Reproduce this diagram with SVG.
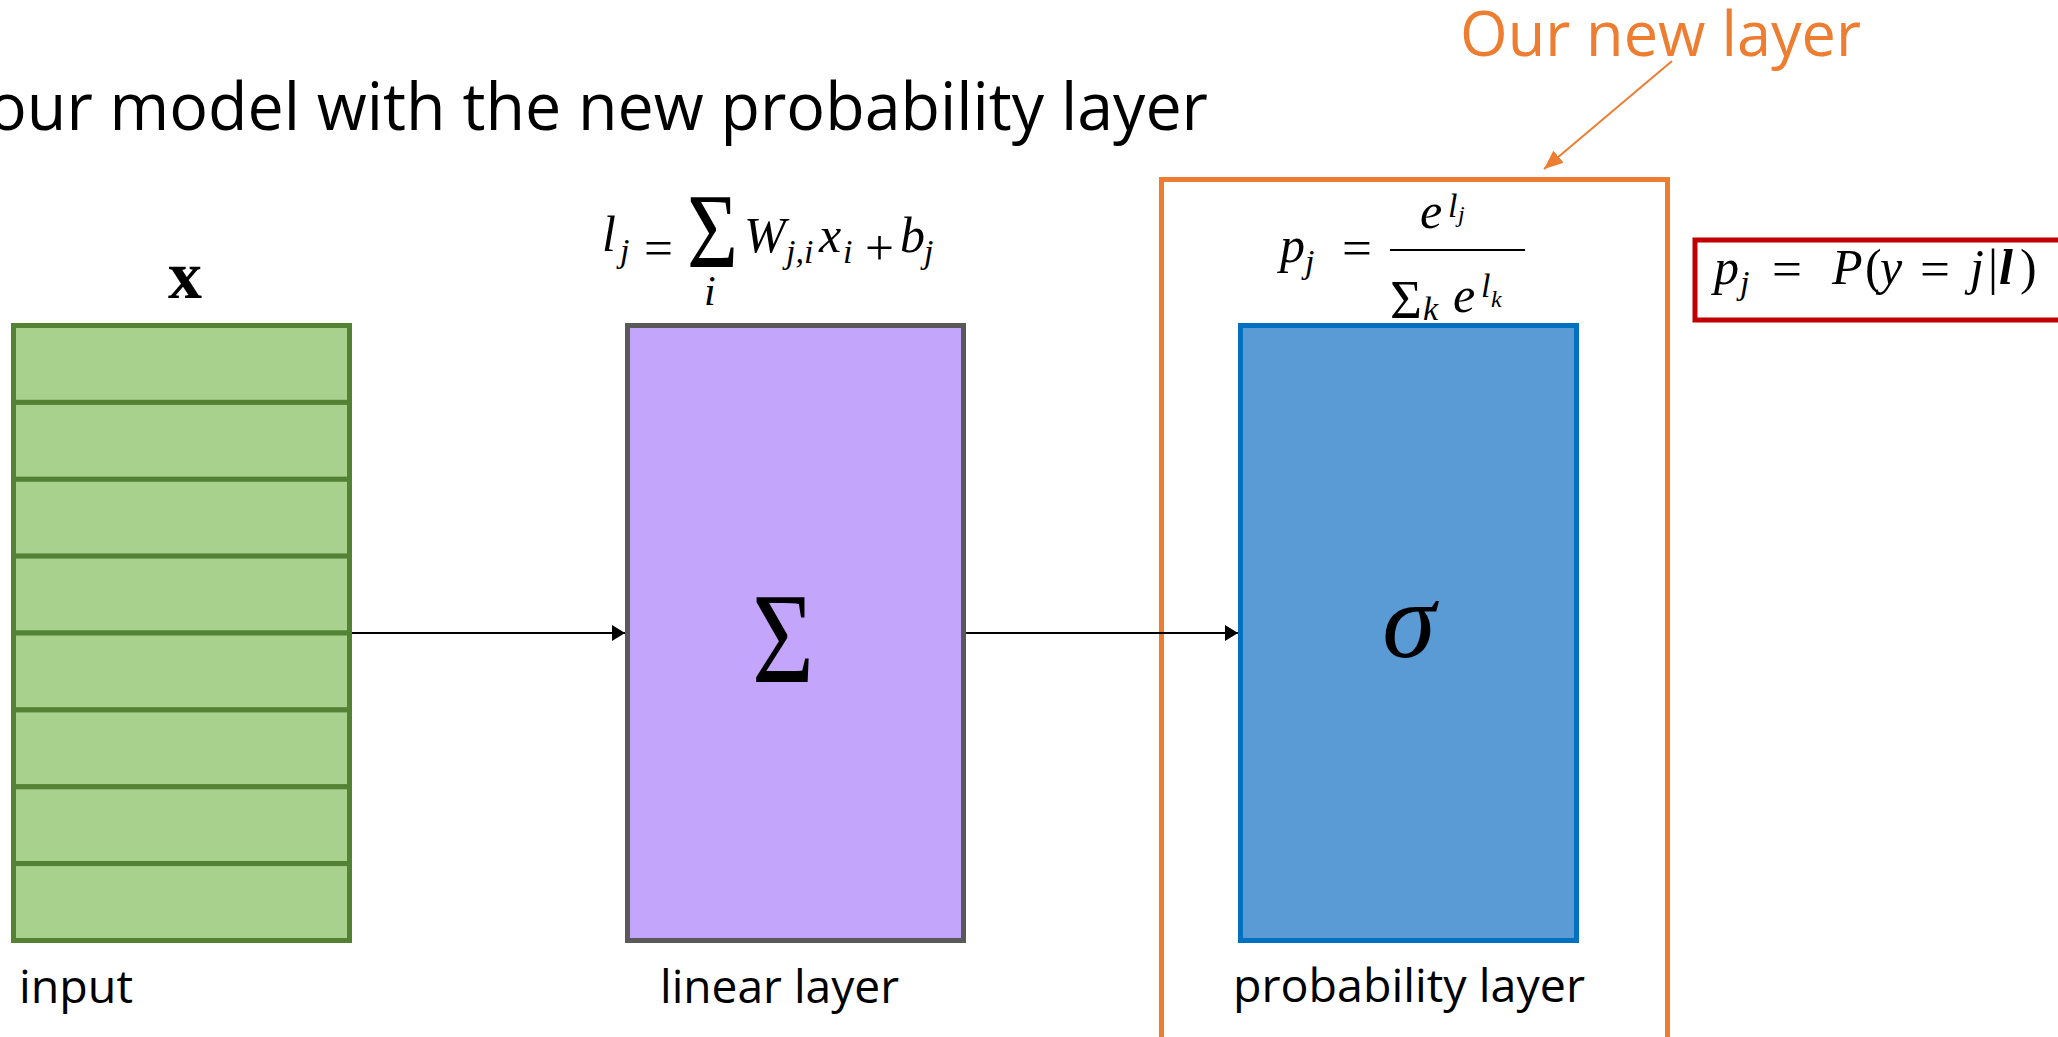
<svg xmlns="http://www.w3.org/2000/svg" width="2058" height="1037" viewBox="0 0 2058 1037">
<style>
.lbl{font-family:"Open Sans","Noto Sans",sans-serif;fill:#000}
.m{font-family:"Liberation Serif","DejaVu Serif",serif;font-style:italic;fill:#000}
.mr{font-family:"Liberation Serif","DejaVu Serif",serif;fill:#000}
.row{fill:#A9D18E;stroke:#548235;stroke-width:5}
.conn{stroke:#000;stroke-width:2;fill:none}
</style>
<defs>
<marker id="ah" markerUnits="userSpaceOnUse" markerWidth="14" markerHeight="16" refX="13" refY="8" orient="auto">
<path d="M0,0 L13,8 L0,16 z" fill="#000"/>
</marker>
<marker id="ahO" markerUnits="userSpaceOnUse" markerWidth="20" markerHeight="16" refX="19" refY="8" orient="auto">
<path d="M0,0 L19,8 L0,16 z" fill="#ED7D31"/>
</marker>
</defs>
<rect width="2058" height="1037" fill="#fff"/>

<text class="lbl" x="-12" y="130" font-size="65" textLength="1220" lengthAdjust="spacingAndGlyphs">our model with the new probability layer</text>

<g id="callout">
<text class="lbl" x="1460" y="56" font-size="62" style="fill:#ED7D31" textLength="401" lengthAdjust="spacingAndGlyphs">Our new layer</text>
<line x1="1672" y1="61" x2="1544" y2="169" stroke="#ED7D31" stroke-width="2" marker-end="url(#ahO)"/>
</g>

<g id="new-layer-frame">
<rect x="1161.5" y="179.5" width="506" height="860" fill="none" stroke="#ED7D31" stroke-width="5"/>
</g>

<g id="input">
<text class="mr" x="185" y="298" font-size="68" font-weight="bold" text-anchor="middle">x</text>
<rect class="row" x="13.5" y="325.5" width="336" height="76.9"/>
<rect class="row" x="13.5" y="402.4" width="336" height="76.9"/>
<rect class="row" x="13.5" y="479.3" width="336" height="76.9"/>
<rect class="row" x="13.5" y="556.1" width="336" height="76.9"/>
<rect class="row" x="13.5" y="633" width="336" height="76.9"/>
<rect class="row" x="13.5" y="709.9" width="336" height="76.9"/>
<rect class="row" x="13.5" y="786.8" width="336" height="76.8"/>
<rect class="row" x="13.5" y="863.6" width="336" height="76.9"/>
<text class="lbl" x="19" y="1003" font-size="46" textLength="114" lengthAdjust="spacingAndGlyphs">input</text>
</g>

<g id="linear-layer">
<text class="m" x="602" y="251" font-size="50">l</text>
<text class="m" x="620" y="262" font-size="34">j</text>
<text class="mr" x="644" y="265" font-size="50" textLength="29" lengthAdjust="spacingAndGlyphs">=</text>
<text class="mr" x="687" y="267" font-size="106" textLength="51" lengthAdjust="spacingAndGlyphs">Σ</text>
<text class="m" x="704" y="305" font-size="42">i</text>
<text class="m" x="744" y="252" font-size="50">W</text>
<text class="m" x="786" y="263" font-size="34">j,i</text>
<text class="m" x="819" y="252" font-size="50">x</text>
<text class="m" x="843" y="263" font-size="34">i</text>
<text class="mr" x="865" y="265" font-size="50" textLength="29" lengthAdjust="spacingAndGlyphs">+</text>
<text class="m" x="900" y="252" font-size="50">b</text>
<text class="m" x="924" y="263" font-size="34">j</text>
<rect x="627.5" y="325.5" width="336" height="615" fill="#C4A5FC" stroke="#595959" stroke-width="5"/>
<text class="mr" x="783" y="682" font-size="130" text-anchor="middle" textLength="62" lengthAdjust="spacingAndGlyphs">Σ</text>
<text class="lbl" x="660" y="1003" font-size="46" textLength="239" lengthAdjust="spacingAndGlyphs">linear layer</text>
</g>

<g id="probability-layer">
<text class="m" x="1280" y="262" font-size="50">p</text>
<text class="m" x="1305" y="273" font-size="34">j</text>
<text class="mr" x="1342" y="265" font-size="50" textLength="30" lengthAdjust="spacingAndGlyphs">=</text>
<line x1="1390" y1="250" x2="1525" y2="250" stroke="#000" stroke-width="2"/>
<text class="m" x="1420" y="228" font-size="50">e</text>
<text class="m" x="1448" y="217" font-size="34">l</text>
<text class="m" x="1458" y="222" font-size="24">j</text>
<text class="mr" x="1390" y="318" font-size="54" textLength="32" lengthAdjust="spacingAndGlyphs">Σ</text>
<text class="m" x="1423" y="320" font-size="34">k</text>
<text class="m" x="1453" y="312" font-size="50">e</text>
<text class="m" x="1481" y="297" font-size="34">l</text>
<text class="m" x="1491" y="307" font-size="24">k</text>
<rect x="1240.5" y="325.5" width="336" height="615" fill="#5B9BD5" stroke="#0070C0" stroke-width="5"/>
<text class="m" x="1409" y="657" font-size="108" text-anchor="middle">σ</text>
<text class="lbl" x="1233" y="1002" font-size="46" textLength="352" lengthAdjust="spacingAndGlyphs">probability layer</text>
</g>

<g id="definition">
<rect x="1695" y="240" width="400" height="80" fill="#fff" stroke="#C00000" stroke-width="5"/>
<text class="m" x="1714" y="284" font-size="50">p</text>
<text class="m" x="1740" y="294" font-size="34">j</text>
<text class="mr" x="1772" y="286" font-size="50" textLength="30" lengthAdjust="spacingAndGlyphs">=</text>
<text class="m" x="1832" y="284" font-size="50">P</text>
<text class="mr" x="1865" y="284" font-size="50">(</text>
<text class="m" x="1880" y="284" font-size="50">y</text>
<text class="mr" x="1920" y="286" font-size="50" textLength="30" lengthAdjust="spacingAndGlyphs">=</text>
<text class="m" x="1970" y="284" font-size="50">j</text>
<text class="mr" x="1988" y="284" font-size="50">|</text>
<text class="m" x="1999" y="284" font-size="50" font-weight="bold">l</text>
<text class="mr" x="2020" y="284" font-size="50">)</text>
</g>

<g id="connectors">
<line class="conn" x1="352" y1="633" x2="625" y2="633" marker-end="url(#ah)"/>
<line class="conn" x1="966" y1="633" x2="1238" y2="633" marker-end="url(#ah)"/>
</g>
</svg>
